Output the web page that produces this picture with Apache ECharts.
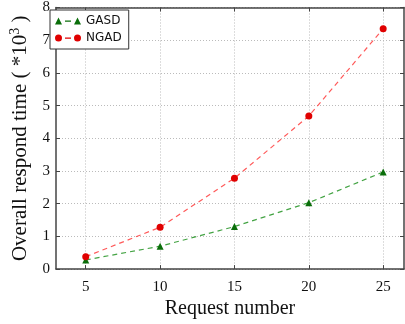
<!DOCTYPE html>
<html>
<head>
<meta charset="utf-8">
<script src="https://cdn.jsdelivr.net/npm/echarts@6/dist/echarts.min.js"></script>
<style>
  html, body { margin: 0; padding: 0; background: #fff; }
  #chart { width: 405px; height: 324px; }
</style>
</head>
<body>
<div id="chart"></div>
<script>
// request numbers on the x axis
const requests = [5, 10, 15, 20, 25]
// respond time, in units of 10^3
const gasd = [0.28, 0.7, 1.3, 2.03, 2.97]
const ngad = [0.38, 1.28, 2.78, 4.68, 7.35]
const xTicks = [5, 10, 15, 20, 25]

const serif = 'Liberation Serif'
const triIcon = 'path://M0,7L3.5,0L7,7Z M10,3L16,3L16,4.2L10,4.2Z M19,7L22.5,0L26,7Z'
const dotIcon = 'path://M0,3.5A3.5,3.5 0 1,1 7,3.5A3.5,3.5 0 1,1 0,3.5Z M10,3L16,3L16,4.2L10,4.2Z M19,3.5A3.5,3.5 0 1,1 26,3.5A3.5,3.5 0 1,1 19,3.5Z'

const chart = echarts.init(document.getElementById('chart'))

const frameLine = { show: true, onZero: false, lineStyle: { color: '#444', width: 1.5 } }

const option = {
  animation: false,
  grid: { left: 46, right: 1, top: 5, bottom: 47 },
  legend: {
    left: 50,
    top: 10,
    orient: 'vertical',
    backgroundColor: '#fff',
    borderColor: '#333',
    borderWidth: 1,
    borderRadius: 0,
    padding: [4, 7, 4, 5],
    itemGap: 3,
    itemWidth: 26,
    itemHeight: 7,
    itemStyle: { borderWidth: 0 },
    textStyle: { fontFamily: 'DejaVu Sans', fontSize: 12, color: '#111', lineHeight: 14 },
    data: [
      { name: 'GASD', icon: triIcon },
      { name: 'NGAD', icon: dotIcon }
    ]
  },
  xAxis: [
    {
      type: 'value',
      min: 3,
      max: 26.4,
      name: 'Request number',
      nameLocation: 'middle',
      nameGap: 28,
      nameTextStyle: { fontFamily: serif, fontSize: 20, color: '#111' },
      axisLine: frameLine,
      axisTick: { inside: true, length: 4, customValues: xTicks, lineStyle: { color: '#444' } },
      axisLabel: { customValues: xTicks, fontFamily: serif, fontSize: 15, color: '#111', margin: 10 },
      splitLine: { show: true, lineStyle: { color: '#bbb', type: [1, 2] } }
    },
    {
      type: 'value',
      position: 'top',
      min: 3,
      max: 26.4,
      axisLine: frameLine,
      axisTick: { inside: true, length: 4, customValues: xTicks, lineStyle: { color: '#444' } },
      axisLabel: { show: false },
      splitLine: { show: false }
    }
  ],
  yAxis: [
    {
      type: 'value',
      min: 0,
      max: 8,
      interval: 1,
      name: '{a|Overall respond time ( *10}{s|3}{a| )}',
      nameLocation: 'middle',
      nameGap: 24,
      nameTextStyle: {
        rich: {
          a: { fontFamily: serif, fontSize: 21, color: '#111' },
          s: { fontFamily: serif, fontSize: 14, color: '#111', verticalAlign: 'top', padding: [0, 0, 10, 0] }
        }
      },
      axisLine: frameLine,
      axisTick: { inside: true, length: 4, lineStyle: { color: '#444' } },
      axisLabel: { fontFamily: serif, fontSize: 15, color: '#111', margin: 6 },
      splitLine: { show: true, lineStyle: { color: '#bbb', type: [1, 2] } }
    },
    {
      type: 'value',
      position: 'right',
      min: 0,
      max: 8,
      interval: 1,
      axisLine: frameLine,
      axisTick: { inside: true, length: 4, lineStyle: { color: '#444' } },
      axisLabel: { show: false },
      splitLine: { show: false }
    }
  ],
  series: [
    {
      name: 'GASD',
      type: 'line',
      symbol: 'triangle',
      symbolSize: 7,
      itemStyle: { color: '#0a6e0a' },
      lineStyle: { color: 'rgba(20,140,20,0.8)', width: 1.2, type: [5, 4] },
      data: requests.map((r, i) => [r, gasd[i]])
    },
    {
      name: 'NGAD',
      type: 'line',
      symbol: 'circle',
      symbolSize: 7,
      itemStyle: { color: '#e00000' },
      lineStyle: { color: 'rgba(255,60,60,0.85)', width: 1.2, type: [5, 4] },
      data: requests.map((r, i) => [r, ngad[i]])
    }
  ]
}

chart.setOption(option)
</script>
</body>
</html>
